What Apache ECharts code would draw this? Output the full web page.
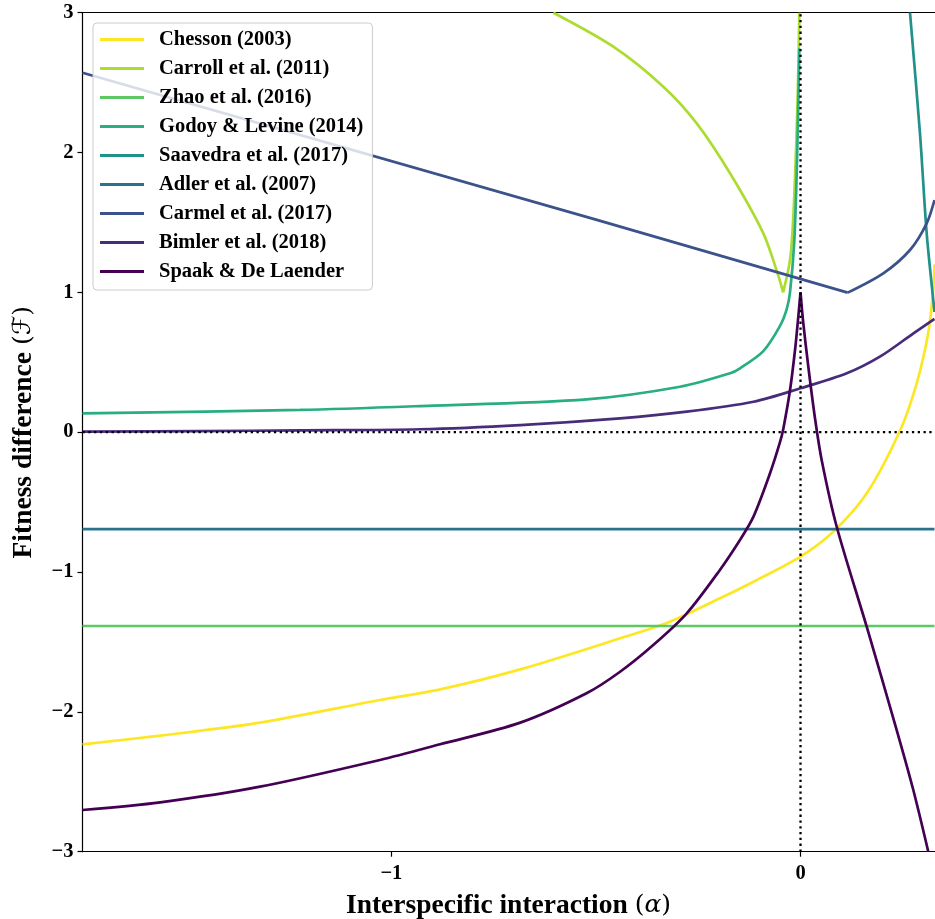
<!DOCTYPE html>
<html><head><meta charset="utf-8">
<script src="https://cdn.jsdelivr.net/npm/echarts@6/dist/echarts.min.js"></script>
<style>html,body{margin:0;padding:0;background:#fff}#c{width:935px;height:919px}</style>
</head><body><div id="c"></div>
<script>
// ---- data ----
const seriesNames = ["Chesson (2003)", "Carroll et al. (2011)", "Zhao et al. (2016)", "Godoy & Levine (2014)",
  "Saavedra et al. (2017)", "Adler et al. (2007)", "Carmel et al. (2017)", "Bimler et al. (2018)", "Spaak & De Laender"];
const colors = ["#fde725", "#addc30", "#5ec962", "#28ae80", "#21918c", "#2c728e", "#3b528b", "#472c7a", "#440154"];

const xMin = -1.755, xMax = 0.3275;
const yTicks = [-3, -2, -1, 0, 1, 2, 3];
const xTicks = [-1, 0];

const chessonX = [-1.755, -1.565, -1.321, -1.028, -0.881, -0.685, -0.441, -0.319, -0.197, -0.115, 0, 0.080, 0.162, 0.243, 0.284, 0.312, 0.3245, 0.3275];
const chessonY = [-2.232, -2.17, -2.077, -1.915, -1.839, -1.696, -1.474, -1.355, -1.188, -1.069, -0.89, -0.712, -0.437, 0.01, 0.35, 0.707, 1.02, 1.2];

const carrollLeftX = [-0.6041, -0.4575, -0.3353, -0.2537, -0.1723, -0.0909, -0.0543, -0.0425];
const carrollLeftY = [3.0, 2.757, 2.471, 2.209, 1.852, 1.422, 1.12, 1.0];
const carrollRightX = [-0.0425, -0.0257, -0.0176, -0.0110, -0.0061, -0.0029];
const carrollRightY = [1.0, 1.231, 1.541, 2.018, 2.495, 3.0];

const zhaoX = [xMin, xMax];
const zhaoY = [-1.386, -1.386];

const godoyX = [-1.755, -1.223, -0.930, -0.5225, -0.2945, -0.1723, -0.1478, -0.0909, -0.0501, -0.0337, -0.0257, -0.0155, -0.0093, -0.0054, -0.0029];
const godoyY = [0.135, 0.159, 0.187, 0.235, 0.325, 0.421, 0.457, 0.58, 0.76, 0.88, 1.00, 1.35, 1.85, 2.35, 2.745];

const saavedraX = [0.2676, 0.2920, 0.3084, 0.3245, 0.3275];
const saavedraY = [3.0, 2.137, 1.422, 0.945, 0.86];

const adlerX = [xMin, xMax];
const adlerY = [-0.693, -0.693];

const carmelLeftX = [-1.755, -0.5, 0.1153];
const carmelLeftY = [2.571, 1.52, 0.998];
const carmelRightX = [0.1153, 0.2023, 0.2676, 0.3084, 0.3275];
const carmelRightY = [0.998, 1.136, 1.303, 1.494, 1.66];

const bimlerX = [-1.755, -1.4675, -1.223, -0.930, -0.685, -0.441, -0.278, -0.115, 0, 0.113, 0.194, 0.276, 0.3275];
const bimlerY = [0.004, 0.008, 0.013, 0.021, 0.051, 0.099, 0.147, 0.218, 0.314, 0.421, 0.54, 0.707, 0.81];

const spaakLeftX = [-1.755, -1.565, -1.321, -1.028, -0.881, -0.685, -0.523, -0.441, -0.360, -0.278, -0.197, -0.148, -0.115, -0.0745, -0.050, -0.042, -0.0257, -0.0134, -0.0054, 0];
const spaakLeftY = [-2.702, -2.647, -2.535, -2.344, -2.232, -2.077, -1.867, -1.713, -1.522, -1.295, -0.985, -0.771, -0.604, -0.294, -0.07, 0.025, 0.30, 0.588, 0.826, 1.0];
const spaakRightX = [0, 0.0061, 0.0191, 0.0354, 0.0518, 0.0885, 0.1618, 0.2351, 0.2757, 0.3123];
const spaakRightY = [1.0, 0.80, 0.468, 0.10, -0.20, -0.676, -1.391, -2.13, -2.559, -3.0];

// ---- build ----
const zip = (xs, ys) => xs.map((x, i) => [x, ys[i]]);
const FONT = "'Liberation Serif', 'Times New Roman', serif";
function curve(idx, xs, ys, smooth) {
  return {
    type: 'line', name: seriesNames[idx], data: zip(xs, ys),
    showSymbol: false, symbol: 'none', smooth: smooth ? 0.3 : false,
    lineStyle: { color: colors[idx], width: 2.7 }, itemStyle: { color: colors[idx] },
    z: 2 + idx * 0.01, clip: true, silent: true, animation: false
  };
}
const minus = v => String(v).replace('-', '\u2212');
const series = [
  curve(0, chessonX, chessonY, true),
  curve(1, carrollLeftX, carrollLeftY, true),
  curve(1, carrollRightX, carrollRightY, true),
  curve(2, zhaoX, zhaoY, false),
  curve(3, godoyX, godoyY, true),
  curve(4, saavedraX, saavedraY, true),
  curve(5, adlerX, adlerY, false),
  curve(6, carmelLeftX, carmelLeftY, false),
  curve(6, carmelRightX, carmelRightY, true),
  curve(7, bimlerX, bimlerY, true),
  curve(8, spaakLeftX, spaakLeftY, true),
  curve(8, spaakRightX, spaakRightY, true),
  { type: 'line', name: 'zeroV', data: [[0, -3], [0, 3]], showSymbol: false, symbol: 'none', silent: true, animation: false, z: 5,
    lineStyle: { color: '#000', width: 2.3, type: [2.3, 3.5], cap: 'butt' } },
  { type: 'line', name: 'zeroH', data: [[xMin, 0], [xMax, 0]], showSymbol: false, symbol: 'none', silent: true, animation: false, z: 5,
    lineStyle: { color: '#000', width: 2.3, type: [2.3, 3.5], cap: 'butt' } }
];

const chart = echarts.init(document.getElementById('c'), null, { renderer: 'canvas' });
chart.setOption({
  animation: false,
  backgroundColor: '#fff',
  grid: { left: 82.5, right: 0.5, top: 12.7, bottom: 67.3, containLabel: false, outerBoundsMode: 'none' },
  xAxis: [{
    type: 'value', min: xMin, max: xMax, position: 'bottom',
    splitLine: { show: false },
    axisLine: { show: true, onZero: false, lineStyle: { color: '#000', width: 1.2 } },
    axisTick: { show: true, length: 5, lineStyle: { color: '#000', width: 1.2 }, customValues: xTicks },
    axisLabel: { customValues: xTicks, formatter: minus, color: '#000', fontFamily: FONT, fontWeight: 'bold', fontSize: 20.5, margin: 12 },
    name: '{b|Interspecific interaction }{p|(}{a|α}{p|)}',
    nameLocation: 'middle', nameGap: 40,
    nameTextStyle: { rich: {
      b: { fontFamily: FONT, fontWeight: 'bold', fontSize: 27.5, color: '#000' },
      p: { fontFamily: "'DejaVu Serif', serif", fontSize: 25, color: '#000' },
      a: { fontFamily: "'DejaVu Serif', serif", fontStyle: 'italic', fontSize: 25, color: '#000' } } }
  }, {
    type: 'value', min: xMin, max: xMax, position: 'top',
    splitLine: { show: false }, axisTick: { show: false }, axisLabel: { show: false },
    axisLine: { show: true, onZero: false, lineStyle: { color: '#000', width: 1.2 } }
  }],
  yAxis: {
    type: 'value', min: -3, max: 3, interval: 1,
    splitLine: { show: false },
    axisLine: { show: true, onZero: false, lineStyle: { color: '#000', width: 1.2 } },
    axisTick: { show: true, length: 5, lineStyle: { color: '#000', width: 1.2 } },
    axisLabel: { formatter: minus, color: '#000', fontFamily: FONT, fontWeight: 'bold', fontSize: 20.5, margin: 9 },
    name: '{b|Fitness difference }{f|(ℱ)}',
    nameLocation: 'middle', nameGap: 45,
    nameTextStyle: { rich: {
      b: { fontFamily: FONT, fontWeight: 'bold', fontSize: 27.5, color: '#000' },
      f: { fontFamily: "'DejaVu Serif', 'DejaVu Sans', serif", fontSize: 25, color: '#000' } } }
  },
  legend: {
    data: seriesNames, orient: 'vertical', left: 93, top: 23,
    padding: [6, 9, 8, 7], itemGap: 8, itemWidth: 44, itemHeight: 3, icon: 'rect',
    backgroundColor: 'rgba(255,255,255,0.8)', borderColor: '#cccccc', borderWidth: 1, borderRadius: 4,
    selectedMode: false,
    textStyle: { fontFamily: FONT, fontWeight: 'bold', fontSize: 20.5, color: '#000', lineHeight: 21, padding: [0, 0, 0, 10] }
  },
  series: series
});
</script>
</body></html>
